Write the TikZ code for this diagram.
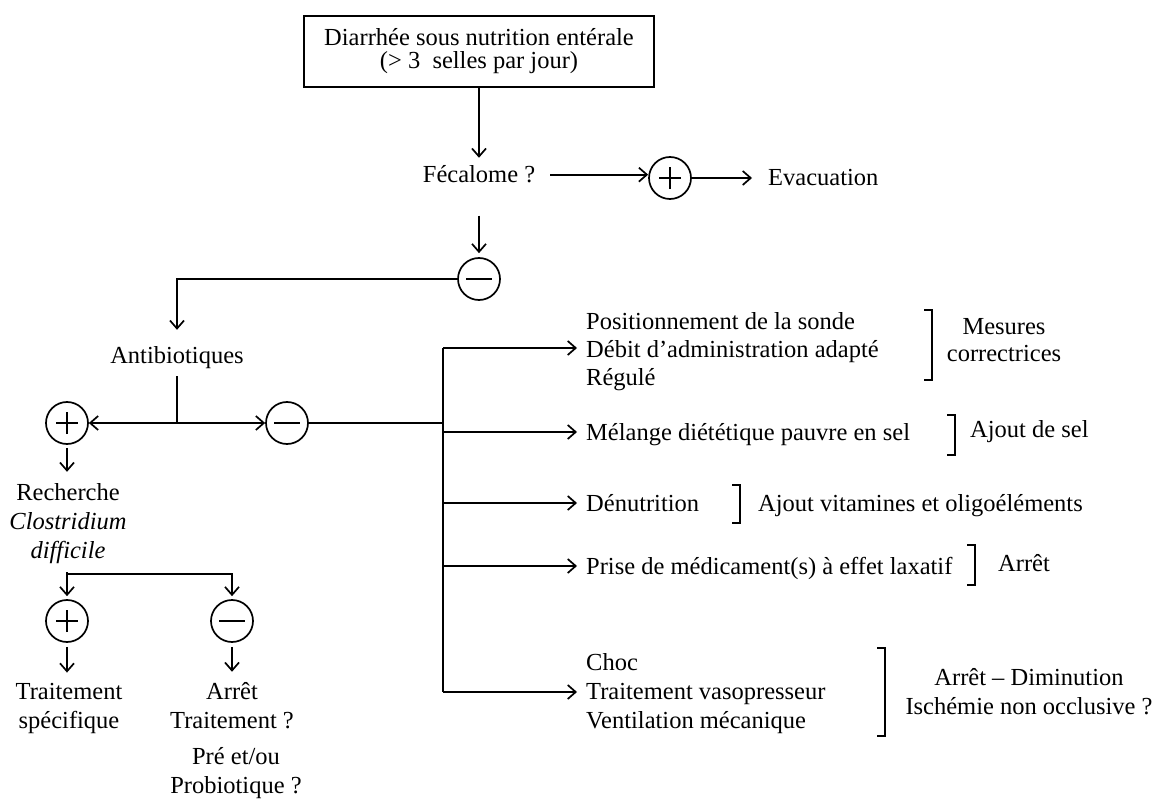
\documentclass[tikz,border=0pt]{standalone}
\usepackage{fontspec}
\setmainfont{Liberation Serif}
\usetikzlibrary{arrows.meta}
\begin{document}
\begin{tikzpicture}[x=1pt,y=-1pt,
  every node/.style={inner sep=0pt, font=\fontsize{24.5}{29}\selectfont},
  ln/.style={line width=1.7pt},
  thk/.style={line width=2.7pt},
  arr/.style={ln, -{Straight Barb[length=8pt,width=14pt]}},
  sgn/.style={circle, draw, line width=1.7pt, minimum size=42pt},
  signplus/.style={sgn, path picture={\draw[line width=1.7pt]
      ([xshift=-11pt]path picture bounding box.center) -- ([xshift=11pt]path picture bounding box.center)
      ([yshift=-11pt]path picture bounding box.center) -- ([yshift=11pt]path picture bounding box.center);}},
  signminus/.style={sgn, path picture={\draw[line width=1.7pt]
      ([xshift=-13pt]path picture bounding box.center) -- ([xshift=13pt]path picture bounding box.center);}},
  brk/.style={line width=1.7pt}
]
\useasboundingbox[fill=white] (0,0) rectangle (1164,799);

% top box
\node[draw, line width=1.7pt, minimum width=350pt, minimum height=71pt, align=center,
      font=\fontsize{24.5}{23}\selectfont] (box) at (479,51.5)
      {Diarrhée sous nutrition entérale\\(> 3\ \ selles par jour)};
\node[anchor=base] (fec) at (479,183) {Fécalome ?};
\node[signplus] (p1) at (670,178) {};
\node[anchor=base west] (evac) at (768,186) {Evacuation};
\node[signminus] (m1) at (479,279) {};
\node[anchor=base] (ab) at (177,363) {Antibiotiques};
\coordinate (j1) at (177,423);
\node[signplus] (p2) at (67,423) {};
\node[signminus] (m2) at (287,423) {};

% left branch
\node[anchor=base, align=center] (rech) at (68,558) {Recherche\\\textit{Clostridium}\\\textit{difficile}};
\coordinate (j2) at (67,574);
\node[signplus] (p3) at (67,621) {};
\node[signminus] (m3) at (232,621) {};
\node[anchor=base, align=center] (trs) at (69,728) {Traitement\\spécifique};
\node[anchor=base, align=center] (arr) at (232,728) {Arrêt\\Traitement ?};
\node[anchor=base, align=center] (pre) at (236,793) {Pré et/ou\\Probiotique ?};

% trunk
\coordinate (tt) at (443,348);
\coordinate (jt) at (443,423);
\coordinate (r2) at (443,432);
\coordinate (r3) at (443,503);
\coordinate (r4) at (443,566);
\coordinate (tb) at (443,692);
\coordinate (a1) at (577,348);
\coordinate (a2) at (577,432);
\coordinate (a3) at (577,503);
\coordinate (a4) at (577,566);
\coordinate (a5) at (577,692);

% right texts
\node[anchor=base west, align=left, font=\fontsize{24.5}{28}\selectfont] (pos) at (586,385)
  {Positionnement de la sonde\\Débit d’administration adapté\\Régulé};
\node[anchor=base, align=center, font=\fontsize{24.5}{28}\selectfont] (mes) at (1004,362) {Mesures\\correctrices};
\node[anchor=base west] (mel) at (586,440) {Mélange diététique pauvre en sel};
\node[anchor=base west] (sel) at (970,437) {Ajout de sel};
\node[anchor=base west] (den) at (586,511) {Dénutrition};
\node[anchor=base west] (vit) at (758,511) {Ajout vitamines et oligoéléments};
\node[anchor=base west] (med) at (586,574) {Prise de médicament(s) à effet laxatif};
\node[anchor=base west] (art) at (998,571) {Arrêt};
\node[anchor=base west, align=left] (choc) at (586,728) {Choc\\Traitement vasopresseur\\Ventilation mécanique};
\node[anchor=base, align=center] (dim) at (1029,714) {Arrêt – Diminution\\Ischémie non occlusive ?};

% connectors
\draw[arr, shorten >=8pt] (box.south) -- (box.south |- fec.north);
\draw[arr, shorten <=15pt] (fec.east) -- (fec.east -| p1.west);
\draw[arr, shorten >=16pt] (p1.east) -- (p1.east -| evac.west);
\draw[arr, shorten <=32pt, shorten >=4pt] (fec.south) -- (m1.north);
\draw[arr, shorten >=16pt] (m1.west) -| (ab.north);
\draw[ln, shorten <=8pt] (ab.south) -- (j1);
\draw[arr] (j1) -- (p2.east);
\draw[arr] (j1) -- (m2.west);
\draw[thk] (m2.east) -- (jt);
\draw[thk] (tt) -- (tb);
\draw[arr] (tt) -- (a1);
\draw[arr] (r2) -- (a2);
\draw[arr] (r3) -- (a3);
\draw[arr] (r4) -- (a4);
\draw[arr] (tb) -- (a5);

\draw[arr, shorten <=3pt, shorten >=11pt] (p2.south) -- (p2.south |- rech.north);
\draw[ln, shorten <=9pt] (rech.south -| j2) -- (j2);
\draw[arr, shorten >=3pt] (j2) -- (p3.north);
\draw[arr, shorten >=3pt] (j2) -| (m3.north);
\draw[arr, shorten <=4pt, shorten >=10pt] (p3.south) -- (p3.south |- trs.north);
\draw[arr, shorten <=4pt, shorten >=10pt] (m3.south) -- (m3.south |- arr.north);

% brackets
\draw[brk] (924,310) -- (932,310) -- (932,380) -- (924,380);
\draw[brk] (947,415) -- (955,415) -- (955,455) -- (947,455);
\draw[brk] (732,485) -- (740,485) -- (740,523) -- (732,523);
\draw[brk] (967,545) -- (975,545) -- (975,585) -- (967,585);
\draw[brk] (877,648) -- (885,648) -- (885,736) -- (877,736);
\end{tikzpicture}
\end{document}
